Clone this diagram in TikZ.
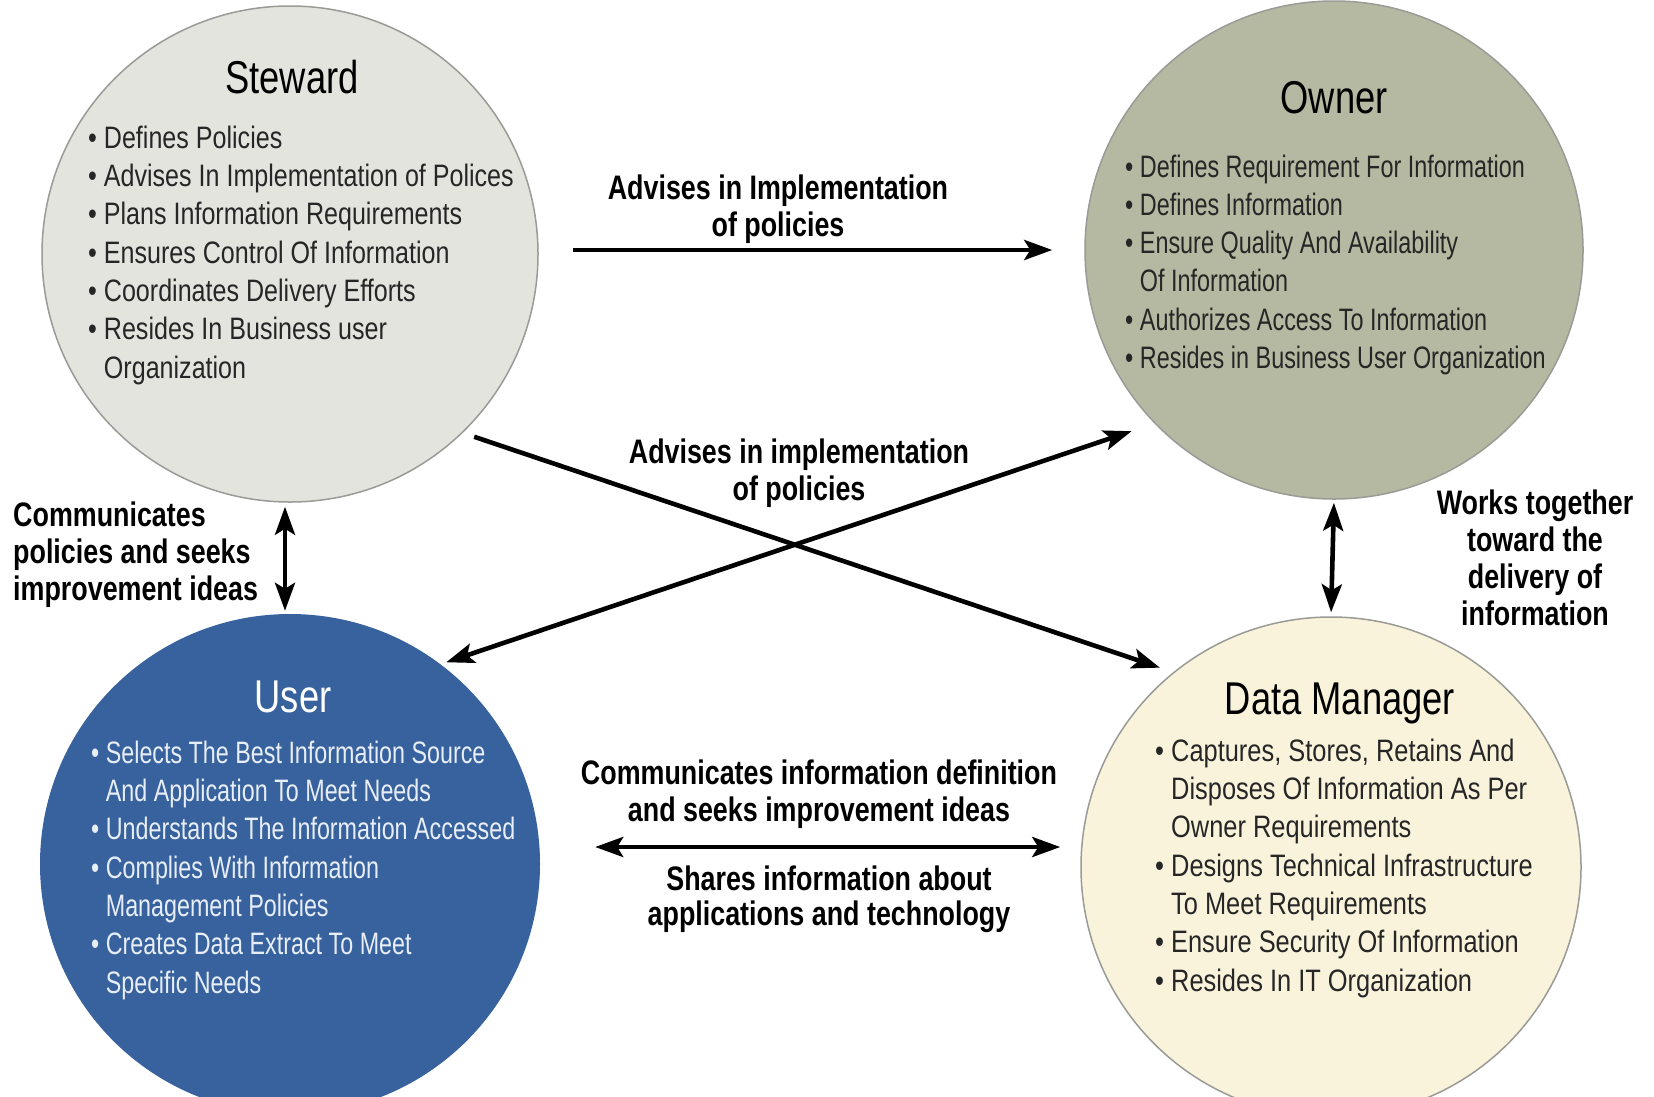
\documentclass[tikz,border=0pt]{standalone}
\usepackage{fontspec}
\setmainfont{Liberation Sans}[FakeStretch=0.79]
\newfontfamily\stewfont{Liberation Sans}[FakeStretch=0.809]
\newfontfamily\ownfont{Liberation Sans}[FakeStretch=0.755]
\newfontfamily\userfont{Liberation Sans}[FakeStretch=0.752]
\newfontfamily\dmfont{Liberation Sans}[FakeStretch=0.82]
\usetikzlibrary{arrows.meta}
\definecolor{stewc}{HTML}{E3E4DE}
\definecolor{ownc}{HTML}{B5B9A1}
\definecolor{userc}{HTML}{37629D}
\definecolor{dmc}{HTML}{FAF3DC}
\definecolor{bodyc}{HTML}{262626}
\definecolor{userbody}{HTML}{E8EEF7}
\definecolor{rimc}{HTML}{9A9B96}
\newcommand{\bu}{\textbullet\ }
\newcommand{\ind}{\hphantom{\textbullet\ }}
\begin{document}
\begin{tikzpicture}[x=1pt,y=-1pt,
  role/.style={circle, inner sep=0pt, minimum size=#1},
  rim/.style={draw=rimc, line width=1.5pt},
  ttl/.style={anchor=base, inner sep=0pt, font=\fontsize{46}{50}\selectfont},
  body/.style={anchor=base west, inner sep=0pt, align=left, text=bodyc},
  bsz/.style={font=#1\fontsize{31}{38.3}\selectfont},
  lbl/.style={anchor=base, inner sep=0pt, align=center, font=\bfseries\fontsize{34}{37}\selectfont},
  conn/.style={line width=4.6pt, draw=black},
  hd/.tip={Stealth[length=28pt,width=20pt,inset=6pt]},
  tip/.style={-hd},
  tips/.style={hd-hd}
]
\useasboundingbox (0,0) rectangle (1654,1096);
\fill[white] (0,0) rectangle (1654,1096);

% circles
\node[role=496pt, fill=stewc, rim] (stew) at (290,254) {};
\node[role=498pt, fill=ownc, rim] (own) at (1334,250) {};
\node[role=500pt, fill=userc] (user) at (290,864) {};
\node[role=500pt, fill=dmc, rim] (dm) at (1331,867) {};

% titles
\node[ttl] (stewt) at (292,93.5) {Steward};
\node[ttl] (ownt) at (1334,113.5) {Owner};
\node[ttl, text=white] (usert) at (293,712.5) {User};
\node[ttl] (dmt) at (1340,714.5) {Data Manager};

% bodies (anchor = baseline of last line)
\node[body, bsz=\stewfont] (stewb) at (88,378) {\bu Defines Policies\\
\bu Advises In Implementation of Polices\\
\bu Plans Information Requirements\\
\bu Ensures Control Of Information\\
\bu Coordinates Delivery Efforts\\
\bu Resides In Business user\\
\ind Organization};

\node[body, bsz=\ownfont] (ownb) at (1125,368.5) {\bu Defines Requirement For Information\\
\bu Defines Information\\
\bu Ensure Quality And Availability\\
\ind Of Information\\
\bu Authorizes Access To Information\\
\bu Resides in Business User Organization};

\node[body, bsz=\userfont, text=userbody] (userb) at (91,993) {\bu Selects The Best Information Source\\
\ind And Application To Meet Needs\\
\bu Understands The Information Accessed\\
\bu Complies With Information\\
\ind Management Policies\\
\bu Creates Data Extract To Meet\\
\ind Specific Needs};

\node[body, bsz=\dmfont] (dmb) at (1155,991) {\bu Captures, Stores, Retains And\\
\ind Disposes Of Information As Per\\
\ind Owner Requirements\\
\bu Designs Technical Infrastructure\\
\ind To Meet Requirements\\
\bu Ensure Security Of Information\\
\bu Resides In IT Organization};

% connectors
\draw[conn, tip, shorten <=34pt, shorten >=32pt] (stew.east |- 0,250) -- (own.west |- 0,250);
\draw[conn, tip, shorten <=12pt, shorten >=14pt] (stew.-46) -- (dm.129);
\draw[conn, tips, shorten <=6pt, shorten >=24pt] (user.53) -- (own.-136);
\draw[conn, tips, shorten <=4pt, shorten >=3pt] ([xshift=-5pt]stew.south) -- ([xshift=-5pt]user.north);
\draw[conn, tips, shorten <=3pt, shorten >=4pt] (own.south) -- (dm.north);
\draw[conn, tips, shorten <=55pt, shorten >=20pt] ([yshift=17pt]user.east) -- ([yshift=20pt]dm.west);

% labels (anchor = baseline of last line)
\node[lbl] (l1) at (778,236) {Advises in Implementation\\of policies};
\node[lbl] (l2) at (799,500) {Advises in implementation\\of policies};
\node[lbl, align=left, anchor=base west] (l3) at (13,600) {Communicates\\policies and seeks\\improvement ideas};
\node[lbl] (l4) at (1535,625) {Works together\\toward the\\delivery of\\information};
\node[lbl] (l5) at (819,821) {Communicates information definition\\and seeks improvement ideas};
\node[lbl, font=\bfseries\fontsize{34}{35}\selectfont] (l6) at (829,925) {Shares information about\\applications and technology};
\end{tikzpicture}
\end{document}
